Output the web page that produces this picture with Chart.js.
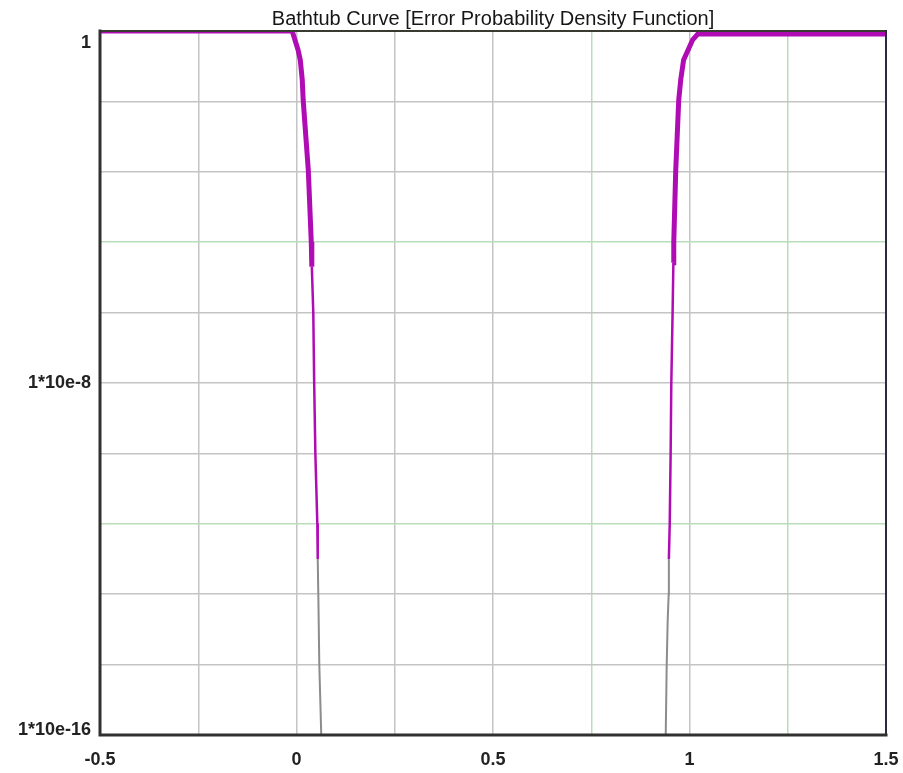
<!DOCTYPE html>
<html>
<head>
<meta charset="utf-8">
<script src="https://cdn.jsdelivr.net/npm/chart.js@4/dist/chart.umd.min.js"></script>
<style>
  html, body { margin: 0; padding: 0; background: #fff; }
  #wrap { width: 903px; height: 773px; }
</style>
</head>
<body>
<div id="wrap"><canvas id="tubChart" width="903" height="773"></canvas></div>
<script>
// Bathtub curve, values
const chartTitle = 'Bathtub Curve [Error Probability Density Function]';

const xTicks = [-0.5, -0.25, 0, 0.25, 0.5, 0.75, 1, 1.25, 1.5];
const xTickLabels = ['-0.5', '', '0', '', '0.5', '', '1', '', '1.5'];

// y axis: log, 10 divisions of 1.6 decades each
const yTickExponents = [0, -1.6, -3.2, -4.8, -6.4, -8, -9.6, -11.2, -12.8, -14.4, -16];
const yTickLabels = ['1', '', '', '', '', '1*10e-8', '', '', '', '', '1*10e-16'];

// left wall (falling edge)
const leftX = [-0.5, -0.011, 0.004, 0.0096, 0.0146, 0.017, 0.030, 0.0376, 0.039, 0.0427, 0.045, 0.048, 0.053, 0.054, 0.0555, 0.058, 0.063];
const leftY = [1, 1, 3.7e-1, 2.2e-1, 7.8e-2, 2.7e-2, 6.9e-4, 1.6e-5, 4.4e-6, 4e-7, 1e-8, 2.5e-10, 6.3e-12, 1e-12, 1.6e-13, 4e-15, 1e-16];

// right wall (rising edge)
const rightX = [0.9395, 0.942, 0.9445, 0.947, 0.9475, 0.9497, 0.952, 0.9537, 0.957, 0.959, 0.960, 0.965, 0.9726, 0.9777, 0.985, 1.008, 1.021, 1.5];
const rightY = [1e-16, 4e-15, 4e-14, 1.6e-13, 1e-12, 6.3e-12, 2.5e-10, 1e-8, 4e-7, 5.4e-6, 1.6e-5, 6.9e-4, 2.7e-2, 7.8e-2, 2.2e-1, 6.3e-1, 0.85, 0.85];

const MAGENTA = '#b00cb4';
const GREY = '#8c8c8c';

function toPoints(xs, ys) {
    return xs.map((x, i) => ({ x: x, y: ys[i] }));
}

// thick magenta near the top, thin magenta in the middle, grey tail at the bottom
function segWidth(ctx) {
    const lo = Math.min(ctx.p0.parsed.y, ctx.p1.parsed.y);
    if (lo >= 4e-6) return 5;
    if (lo >= 1e-12) return 2.5;
    return 2;
}
function segColor(ctx) {
    const lo = Math.min(ctx.p0.parsed.y, ctx.p1.parsed.y);
    return lo >= 1e-12 ? MAGENTA : GREY;
}

const gridGrey = '#c4c4c4';
const gridGreen = '#b9ddb9';

const framePlugin = {
    id: 'frame',
    afterDatasetsDraw(chart) {
        const c = chart.ctx;
        const a = chart.chartArea;
        c.save();
        c.lineCap = 'square';
        c.strokeStyle = '#3a3a30';
        c.lineWidth = 2;
        c.beginPath(); c.moveTo(a.left, a.top); c.lineTo(a.right, a.top); c.stroke();
        c.strokeStyle = '#2a2a40';
        c.beginPath(); c.moveTo(a.right, a.top); c.lineTo(a.right, a.bottom); c.stroke();
        c.strokeStyle = '#303030';
        c.lineWidth = 3;
        c.beginPath(); c.moveTo(a.left, a.top); c.lineTo(a.left, a.bottom); c.lineTo(a.right, a.bottom); c.stroke();

        // title
        c.fillStyle = '#161616';
        c.font = '20px "Liberation Sans", Arial, sans-serif';
        c.textAlign = 'center';
        c.textBaseline = 'alphabetic';
        c.fillText(chartTitle, (a.left + a.right) / 2, 25);

        // y labels, kept inside the plot height like the original
        const ys = chart.scales.y;
        c.fillStyle = '#222';
        c.font = 'bold 18px "Liberation Sans", Arial, sans-serif';
        c.textAlign = 'right';
        c.textBaseline = 'middle';
        yTickExponents.forEach((e, i) => {
            if (!yTickLabels[i]) return;
            let py = ys.getPixelForValue(Math.pow(10, e));
            py = Math.min(Math.max(py, a.top + 12), a.bottom - 5);
            c.fillText(yTickLabels[i], 91, py);
        });
        c.restore();
    }
};

const ctx = document.getElementById('tubChart');
new Chart(ctx, {
    type: 'line',
    data: {
        datasets: [
            {
                label: 'left',
                data: toPoints(leftX, leftY),
                borderColor: MAGENTA,
                borderWidth: 5,
                pointRadius: 0,
                tension: 0,
                segment: { borderWidth: segWidth, borderColor: segColor }
            },
            {
                label: 'right',
                data: toPoints(rightX, rightY),
                borderColor: MAGENTA,
                borderWidth: 5,
                pointRadius: 0,
                tension: 0,
                segment: { borderWidth: segWidth, borderColor: segColor }
            }
        ]
    },
    options: {
        responsive: false,
        animation: false,
        layout: { padding: { top: 31, right: 17, left: 0, bottom: 0 } },
        plugins: {
            legend: { display: false },
            title: { display: false },
            tooltip: { enabled: false }
        },
        scales: {
            x: {
                type: 'linear',
                min: -0.5,
                max: 1.5,
                afterBuildTicks: s => { s.ticks = xTicks.map(v => ({ value: v })); },
                afterFit: s => { s.height = 38; s.paddingLeft = 0; s.paddingRight = 0; },
                border: { display: false },
                grid: {
                    drawTicks: false,
                    lineWidth: 1.5,
                    color: c => (c.tick && (c.tick.value === 0.75 || c.tick.value === 1.25)) ? gridGreen : gridGrey
                },
                ticks: {
                    padding: 14,
                    maxRotation: 0,
                    autoSkip: false,
                    color: '#222',
                    font: { family: '"Liberation Sans", Arial, sans-serif', size: 18, weight: 'bold' },
                    callback: (v, i) => xTickLabels[i]
                }
            },
            y: {
                type: 'logarithmic',
                min: 1e-16,
                max: 1,
                afterBuildTicks: s => { s.ticks = yTickExponents.map(e => ({ value: Math.pow(10, e) })); },
                afterFit: s => { s.width = 100; },
                border: { display: false },
                grid: {
                    drawTicks: false,
                    lineWidth: 1.5,
                    color: c => (c.index === 3 || c.index === 7) ? gridGreen : gridGrey
                },
                ticks: { display: false }
            }
        }
    },
    plugins: [framePlugin]
});
</script>
</body>
</html>
